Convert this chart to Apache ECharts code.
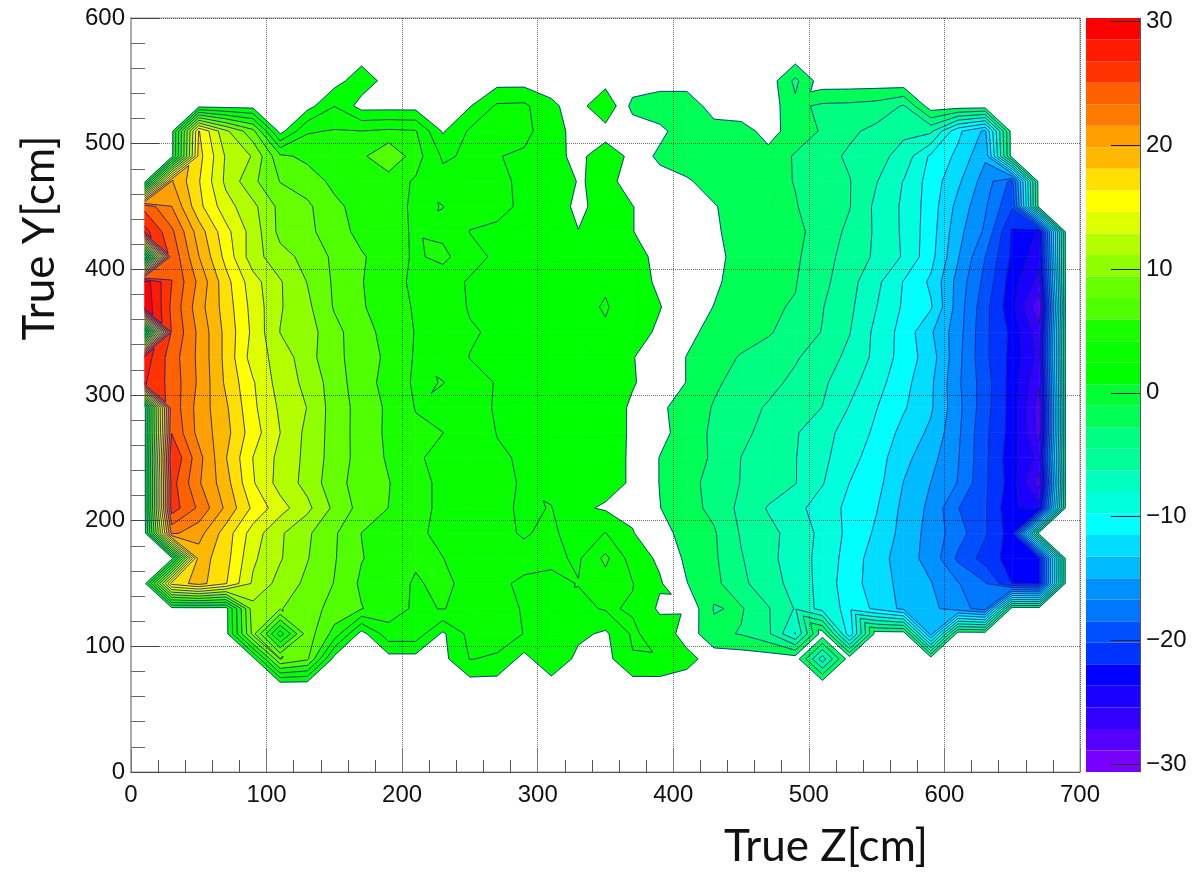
<!DOCTYPE html>
<html>
<head>
<meta charset="utf-8">
<style>html,body{margin:0;padding:0;background:#fff}#c{width:1204px;height:875px}</style>
<script src="https://cdn.jsdelivr.net/npm/echarts@6/dist/echarts.min.js"></script>
</head>
<body>
<div id="c"></div>
<script>
const zCenters = [10,30,50,70,90,110,130,150,170,190,210,230,250,270,290,310,330,350,370,390,410,430,450,470,490,510,530,550,570,590,610,630,650,670,690];
const y570 = [0,0,0,0,0,0,0,0,0,0,0,0,0,0,0,0,0,0,0,0,0,0,0,0,0,0,0,0,0,0,0,0,0,0,0];
const y550 = [0,0,0,0,0,0,0,0,1.7,0,0,0,0,0,0,0,0,0,0,0,0,0,0,0,-3.2,0,0,0,0.3,0,0,0,0,0,0];
const y530 = [0,0,0,0,0,0,0,2.4,0,0,0,0,0.6,2.7,2.8,1,0,2.2,-1.6,-2.5,-2.5,0,0,0,-2.4,-3.1,-3.2,-3.5,-4.7,0,0,0,0,0,0];
const y510 = [0,0,16.5,11.5,8.2,0,4,4.3,4.2,4.5,4.3,0.5,2.7,3.1,2.9,1.5,0,0,0,-0.5,-2.3,-2,-1.7,-0.5,-1.7,-3,-4.2,-5,-5.9,-5.9,-11.1,-13.6,0,0,0];
const y490 = [0,0,17,12.7,11,6.3,5.5,5.3,5.5,7.6,4.9,2.2,2.7,2.5,2.2,1.2,0.3,1.6,0.3,-1.5,-2.2,-2.2,-2.3,-1.5,-3,-3.9,-4.8,-5.65,-6.95,-10.1,-11.9,-14.7,0,0,0];
const y470 = [0,20,16.5,12.5,9.8,7.6,6.8,5.5,5,4.9,4,3,2.9,2.6,2.3,1.9,0.6,1,0.3,-0.2,-0.8,-1.9,-2.2,-2.3,-2.85,-3.8,-4.45,-6.2,-8.1,-10.5,-12.9,-15.8,-19,0,0];
const y450 = [24.5,21.6,16.9,13.6,11.6,8.9,8,6.3,5.3,4.7,3.95,4.22,3,2.8,2.2,1.18,0.5,1.07,0.72,0.3,0.1,-0.9,-2,-2.3,-2.7,-3.55,-4.45,-6.7,-8.3,-10.6,-13.8,-16.5,-20,0,0];
const y430 = [27.5,23.7,19,15.2,12.1,8.9,8.1,6.7,5.4,4.7,4,3.7,2.4,2.2,2,1.7,0.72,1.7,0.72,0.3,0.1,-0.7,-2,-2.2,-2.4,-3.45,-4.95,-6.55,-8.3,-10.7,-14.4,-17,-22.2,-23.9,0];
const y410 = [0,24.7,19.9,15.8,11.9,10,8.9,7.3,6.1,5.1,3.9,4.7,2.9,2.2,2,1.8,1.7,1.5,1.1,0.4,0.1,-0.3,-2,-2.3,-2.5,-3.9,-5.2,-6.6,-8.2,-10.9,-14.85,-18.44,-22.3,-24.7,0];
const y390 = [29.5,25.1,21.2,17,13.6,11.3,9.35,7.4,6,4.9,3.8,3,2.3,2,1.9,1.8,1.7,2.2,1.2,0.5,0,-0.7,-1.9,-2.4,-2.7,-4.05,-5.65,-7.6,-9.85,-11.8,-15.6,-19,-22.9,-26,0];
const y370 = [30.1,24.7,20.6,17.3,14,11.3,9.8,7.5,6.1,5,4,3.4,2.3,2.1,2,1.95,1.9,2.6,1.4,0.75,0,-1.1,-2.1,-2.6,-2.9,-4.45,-5.9,-8,-10,-11.3,-15.8,-19.6,-23.2,-28.6,0];
const y350 = [0,25,21.2,17.6,14.2,11.1,10.2,8.2,6.6,5.3,4.1,3.6,2.6,2.2,2.1,2,1.8,2.2,1.2,0.5,-0.6,-1.6,-2.2,-2.6,-3.6,-4.6,-6.2,-8.5,-10.4,-13,-16,-19.8,-22.4,-26.5,0];
const y330 = [27.8,24.2,21.2,17.6,13.8,12.2,10.1,8.1,6.9,5.5,4,3.3,2.4,2.2,2.1,2,1.9,1.7,0.75,0.1,-1.1,-2.2,-2.9,-3.6,-4.35,-5.4,-6.7,-8.5,-10.5,-12.4,-16.2,-19.8,-22.5,-26,0];
const y310 = [27,24.4,21.3,17.8,14.8,12.1,10.7,8.5,6.7,5.3,3.9,4.24,3,2.35,2.2,2.1,1.9,1.6,0.8,0.1,-1.1,-2.55,-3.3,-4.05,-4.9,-5.95,-7.4,-9.1,-10.9,-12.9,-16.4,-19.4,-22.7,-27,0];
const y290 = [0,24.5,20.9,18.4,15,12.6,11.1,8.6,7,5.6,4.1,3.4,3,2.3,2,1.8,1.6,1.4,0.5,-0.7,-1.9,-2.9,-3.9,-4.7,-5.5,-6.3,-8.1,-9.7,-11.3,-13,-16.2,-19.5,-22.7,-28,0];
const y270 = [0,25,21,18.7,15.4,12.9,10.7,8.7,6.9,5.6,4.5,4.2,3.3,2.4,2.1,1.9,1.7,1.4,0.5,-0.5,-1.9,-3.1,-4.1,-5.1,-6.1,-7.4,-8.7,-10.1,-12.1,-13.6,-16.4,-19.8,-22.7,-27.8,0];
const y250 = [0,26.8,22.2,18.2,14.6,12.4,10.7,8.6,7,5.7,4.4,3.7,3.1,2.6,2.3,2,1.8,1.3,0.5,-1.1,-2.1,-3,-4.55,-5.4,-6.2,-7.6,-9.1,-10.7,-12.7,-14.4,-16.6,-19.8,-23.1,-26,0];
const y230 = [0,25.8,21.8,18.8,14.8,12.2,10.6,8.3,6.9,6,4.6,3.9,3.2,2.8,2.3,2,1.8,1.3,0.5,-1.1,-2.3,-3.3,-4.6,-5.4,-6.2,-7.9,-9.76,-10.9,-13.3,-15,-16.8,-19.9,-22.8,-28,0];
const y210 = [0,26,23,19.5,16,13.6,11.6,9,7,5.9,4.6,3.9,3.3,2.8,2.2,2.5,1,0.5,0.3,-1,-2.2,-3.2,-5,-6.4,-7.5,-8.8,-10.2,-11.4,-13.7,-15.4,-18.4,-20,-23.4,-24.5,0];
const y190 = [0,22,20.5,17.3,13.8,11.4,9.7,7.9,5.9,5,4.4,3.9,3.3,2.8,2.3,2.8,1.5,2.5,0.8,-0.6,-1.5,-2.6,-4.7,-5.8,-6.9,-8.5,-10.2,-11.8,-13.9,-15.6,-17.7,-20,-22.9,0,0];
const y170 = [0,0,19,17,13.2,11.3,9.5,7.8,6,5.2,4.4,4.2,3.6,3,2.9,2.8,2.2,4.6,1.6,0.4,-1.4,-2.5,-4.4,-5.8,-7.1,-8.6,-10.5,-12.4,-14.2,-15.6,-18.8,-20.9,-22.8,-22.6,0];
const y150 = [0,17,18.8,16.5,12.6,10.5,9,7.6,5.6,4.9,4,4.6,3.6,2.7,2.2,2,2.5,3.4,2.5,0.9,-1,-2.3,-4.1,-5.6,-6.8,-8.7,-10.7,-12.4,-13.8,-14.9,-16.6,-18.3,-22,-22.5,0];
const y130 = [0,0,0,0,10.5,9.5,8.5,7,6,5,3.9,4.25,3.6,3.1,2.3,2.1,2,2.6,2.3,0.4,0.43,-2.9,-2.6,-4.4,-6.4,-8.7,-10.3,-11.9,-13.7,-14.5,-16,-17.5,0,0,0];
const y110 = [0,0,0,0,10,1.5,8.6,5.3,0,3.5,3.5,0.4,3,3.2,2.4,2,1.1,0.4,2.7,1.7,0,-2.4,-2.9,-4.2,-8.1,0,-11,0,0,-14,0,0,0,0,0];
const y090 = [0,0,0,0,0,9.5,8,0,0,0,0,0.2,2.5,2.2,0.1,2.2,0.2,0.1,2.3,2.35,1.2,0,0,0,0,-7.2,0,0,0,0,0,0,0,0,0];
const y070 = [0,0,0,0,0,0,0,0,0,0,0,0,0,0,0,0,0,0,0,0,0,0,0,0,0,0,0,0,0,0,0,0,0,0,0];
const yCenters = [570,550,530,510,490,470,450,430,410,390,370,350,330,310,290,270,250,230,210,190,170,150,130,110,90,70];
const gridRows = [y570,y550,y530,y510,y490,y470,y450,y430,y410,y390,y370,y350,y330,y310,y290,y270,y250,y230,y210,y190,y170,y150,y130,y110,y090,y070];

const contourLevels = [-30.65,-28.91,-27.17,-25.43,-23.68,-21.94,-20.2,-18.46,-16.72,-14.98,-13.24,-11.49,-9.75,-8.01,-6.27,-4.53,-2.79,-1.05,0.7,2.44,4.18,5.92,7.66,9.4,11.14,12.89,14.63,16.37,18.11,19.85,21.59,23.33,25.07,26.81,28.56,30.3];
const bandColors = ['#7700ff','#5500ff','#3300ff','#1a00ff','#0000ff','#0033ff','#0050ff','#0077ff','#0090ff','#00bbff','#00ddff','#00ffff','#00ffdd','#00ffc0','#00ff99','#00ff80','#00ff55','#00ff33','#00ff00','#08ff00','#1aff00','#50ff00','#66ff00','#90ff00','#b3ff00','#ddff00','#ffff00','#ffe000','#ffb800','#ffa000','#ff7a00','#ff6000','#ff3300','#ff1a00','#ff0000'];
const emptyBand = 17;
const barTicks = [-30,-20,-10,0,10,20,30];

function clip(poly, level, keepAbove) {
  const out = [];
  for (let i = 0; i < poly.length; i++) {
    const a = poly[i], b = poly[(i + 1) % poly.length];
    const ia = keepAbove ? a[2] >= level : a[2] <= level;
    const ib = keepAbove ? b[2] >= level : b[2] <= level;
    if (ia) out.push(a);
    if (ia !== ib) {
      const t = (level - a[2]) / (b[2] - a[2]);
      out.push([a[0] + t * (b[0] - a[0]), a[1] + t * (b[1] - a[1]), level]);
    }
  }
  return out;
}
// A saddle cell is cut along the diagonal joining its two higher corners.
function eachCell(fn) {
  for (let r = 0; r < gridRows.length - 1; r++) {
    for (let c = 0; c < zCenters.length - 1; c++) {
      const q = [
        [zCenters[c], yCenters[r], gridRows[r][c]],
        [zCenters[c + 1], yCenters[r], gridRows[r][c + 1]],
        [zCenters[c + 1], yCenters[r + 1], gridRows[r + 1][c + 1]],
        [zCenters[c], yCenters[r + 1], gridRows[r + 1][c]]
      ];
      const v = q.map(p => p[2]);
      if (Math.min(v[0], v[2]) > Math.max(v[1], v[3])) {
        fn([q[0], q[1], q[2]]); fn([q[0], q[2], q[3]]);
      } else if (Math.min(v[1], v[3]) > Math.max(v[0], v[2])) {
        fn([q[1], q[2], q[3]]); fn([q[1], q[3], q[0]]);
      } else {
        fn(q);
      }
    }
  }
}
function renderBand(params, api) {
  const k = api.value(0);
  const children = [];
  if (k === emptyBand) return { type: 'group', children };
  const lo = contourLevels[k], hi = contourLevels[k + 1], col = bandColors[k];
  eachCell(q => {
    const vs = q.map(p => p[2]);
    if (Math.max(...vs) < lo || Math.min(...vs) > hi) return;
    let p = clip(q, lo, true);
    if (p.length >= 3) p = clip(p, hi, false);
    if (p.length < 3) return;
    children.push({
      type: 'polygon',
      shape: { points: p.map(v => api.coord([v[0], v[1]])) },
      style: { fill: col, stroke: col, lineWidth: 0.6 }
    });
  });
  return { type: 'group', children };
}
function renderLines(params, api) {
  const L = api.value(0);
  const children = [];
  eachCell(q => {
    const pts = [];
    for (let i = 0; i < q.length; i++) {
      const a = q[i], b = q[(i + 1) % q.length];
      if ((a[2] < L) !== (b[2] < L)) {
        const t = (L - a[2]) / (b[2] - a[2]);
        pts.push(api.coord([a[0] + t * (b[0] - a[0]), a[1] + t * (b[1] - a[1])]));
      }
    }
    if (pts.length === 2) {
      children.push({
        type: 'line',
        shape: { x1: pts[0][0], y1: pts[0][1], x2: pts[1][0], y2: pts[1][1] },
        style: { stroke: 'rgba(20,30,140,0.85)', lineWidth: 1, fill: null }
      });
    }
  });
  return { type: 'group', children };
}
function renderBar(params, api) {
  const k = api.value(0);
  const a = api.coord([0, contourLevels[k + 1]]);
  const b = api.coord([1, contourLevels[k]]);
  return { type: 'rect', shape: { x: a[0], y: a[1], width: b[0] - a[0], height: b[1] - a[1] }, style: { fill: bandColors[k] } };
}

const tickFont = { fontFamily: 'Liberation Sans', fontSize: 24, color: '#111' };
const chart = echarts.init(document.getElementById('c'), null, { renderer: 'canvas' });
chart.setOption({
  animation: false,
  backgroundColor: '#fff',
  grid: [
    { left: 131, top: 18, width: 949, height: 754, show: true, borderColor: '#999', borderWidth: 1, backgroundColor: 'transparent' },
    { left: 1086, top: 18, width: 54, height: 754 }
  ],
  xAxis: [
    { type: 'value', gridIndex: 0, min: 0, max: 700, interval: 100, z: 10,
      axisLine: { show: true, onZero: false, lineStyle: { color: '#555', width: 1 } },
      axisTick: { show: true, inside: true, length: 23, lineStyle: { color: '#777' } },
      minorTick: { show: true, splitNumber: 5, length: 12, lineStyle: { color: '#555' } },
      splitLine: { show: true, lineStyle: { type: 'dotted', color: 'rgba(0,0,0,0.55)', width: 1 } },
      axisLabel: Object.assign({ margin: 11, showMaxLabel: true, showMinLabel: true }, tickFont) },
    { type: 'value', gridIndex: 1, min: 0, max: 1, show: false }
  ],
  yAxis: [
    { type: 'value', gridIndex: 0, min: 0, max: 600, interval: 100, z: 10,
      axisLine: { show: true, onZero: false, lineStyle: { color: '#aaa', width: 2 } },
      axisTick: { show: true, inside: true, length: 28, lineStyle: { color: '#444' } },
      minorTick: { show: true, splitNumber: 5, length: 14, lineStyle: { color: '#666' } },
      splitLine: { show: true, lineStyle: { type: 'dotted', color: 'rgba(0,0,0,0.55)', width: 1 } },
      axisLabel: Object.assign({ margin: 6 }, tickFont) },
    { type: 'value', gridIndex: 1, position: 'right', min: -30.65, max: 30.3, z: 10,
      axisLine: { show: true, onZero: false, lineStyle: { color: '#555', width: 1 } },
      axisTick: { show: true, inside: true, length: 29, customValues: barTicks, lineStyle: { color: '#222' } },
      splitLine: { show: false },
      axisLabel: Object.assign({ margin: 6, customValues: barTicks, formatter: v => String(v).replace('-', '\u2212') }, tickFont) }
  ],
  series: [
    { type: 'custom', xAxisIndex: 0, yAxisIndex: 0, silent: true, clip: true, progressive: 0, z: 2,
      renderItem: renderBand, data: bandColors.map((c, k) => [k]), encode: { x: -1, y: -1 } },
    { type: 'custom', xAxisIndex: 0, yAxisIndex: 0, silent: true, clip: true, progressive: 0, z: 3,
      renderItem: renderLines, data: contourLevels.map(l => [l]), encode: { x: -1, y: -1 } },
    { type: 'custom', xAxisIndex: 1, yAxisIndex: 1, silent: true, progressive: 0, z: 2,
      renderItem: renderBar, data: bandColors.map((c, k) => [k]), encode: { x: -1, y: -1 } }
  ],
  graphic: [
    { type: 'text', left: 724, top: 825, silent: true,
      style: { text: 'True Z[cm]', font: '44px Lato', fill: '#111' } },
    { type: 'text', rotation: Math.PI / 2, x: 40, y: 238, silent: true,
      style: { text: 'True Y[cm]', font: '44px Lato', fill: '#111', align: 'center', verticalAlign: 'middle' } }
  ]
});
</script>
</body>
</html>
